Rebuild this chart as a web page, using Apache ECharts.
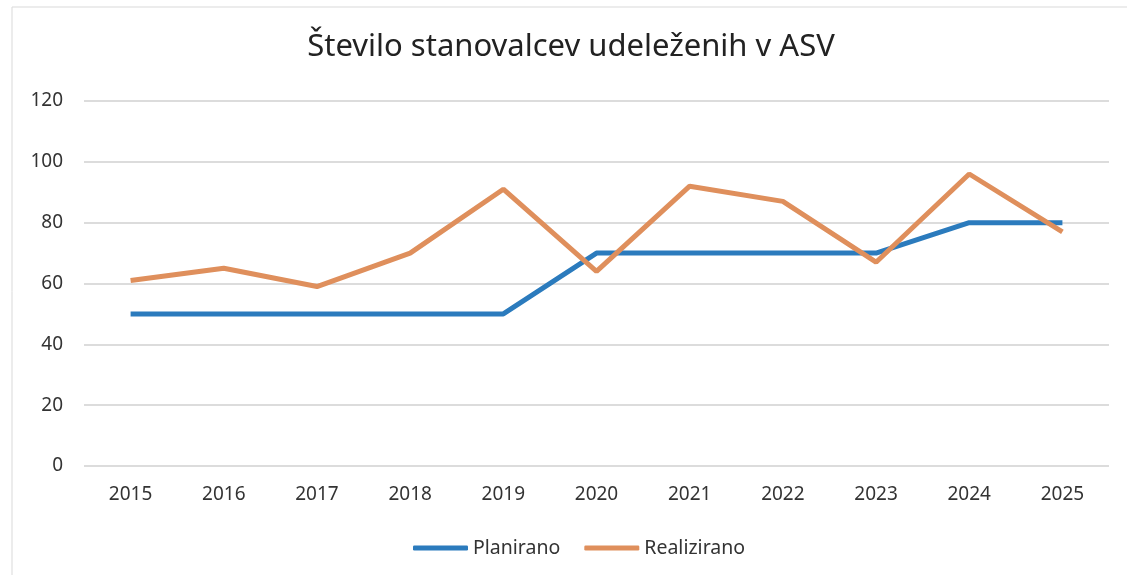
<!DOCTYPE html>
<html><head><meta charset="utf-8">
<script src="https://cdn.jsdelivr.net/npm/echarts@6/dist/echarts.min.js"></script>
<style>html,body{margin:0;padding:0;background:#fff}#c{width:1127px;height:575px}</style>
</head><body><div id="c"></div>
<script>
const categories = ['2015','2016','2017','2018','2019','2020','2021','2022','2023','2024','2025'];
const planirano = [50,50,50,50,50,70,70,70,70,80,80];
const realizirano = [61,65,59,70,91,64,92,87,67,96,77];
const yTicks = {min:0, max:120, interval:20};
const titleText = 'Število stanovalcev udeleženih v ASV';

const chart = echarts.init(document.getElementById('c'));
chart.setOption({
  backgroundColor:'#fff',
  title:{text:titleText,left:566,textAlign:'center',top:27,textStyle:{fontFamily:'Noto Sans',fontSize:31,fontWeight:'normal',color:'#222'}},
  grid:{left:84,right:18,top:101,bottom:109},
  legend:{bottom:12,left:408,itemWidth:55,itemHeight:5,itemGap:24,
    textStyle:{fontFamily:'Noto Sans',fontSize:19.5,color:'#333'},
    icon:'roundRect',
    data:['Planirano','Realizirano']},
  xAxis:{type:'category',data:categories,boundaryGap:true,
    axisLine:{show:false},axisTick:{show:false},
    axisLabel:{margin:19,fontFamily:'Noto Sans',fontSize:19,color:'#333'}},
  yAxis:{type:'value',min:yTicks.min,max:yTicks.max,interval:yTicks.interval,
    axisLine:{show:false},axisTick:{show:false},
    axisLabel:{margin:21,fontFamily:'Noto Sans',fontSize:19,color:'#333'},
    splitLine:{lineStyle:{color:'#dcdcdc',width:2}}},
  series:[
    {name:'Planirano',type:'line',data:planirano,symbol:'none',lineStyle:{width:5,color:'#2b7bbd'},itemStyle:{color:'#2b7bbd'}},
    {name:'Realizirano',type:'line',data:realizirano,symbol:'none',lineStyle:{width:5,color:'#df8f5c'},itemStyle:{color:'#df8f5c'}}
  ],
  graphic:[{type:'rect',shape:{x:12,y:7,width:1125,height:580},style:{fill:'none',stroke:'#d9d9d9',lineWidth:1},silent:true}]
});
</script></body></html>
